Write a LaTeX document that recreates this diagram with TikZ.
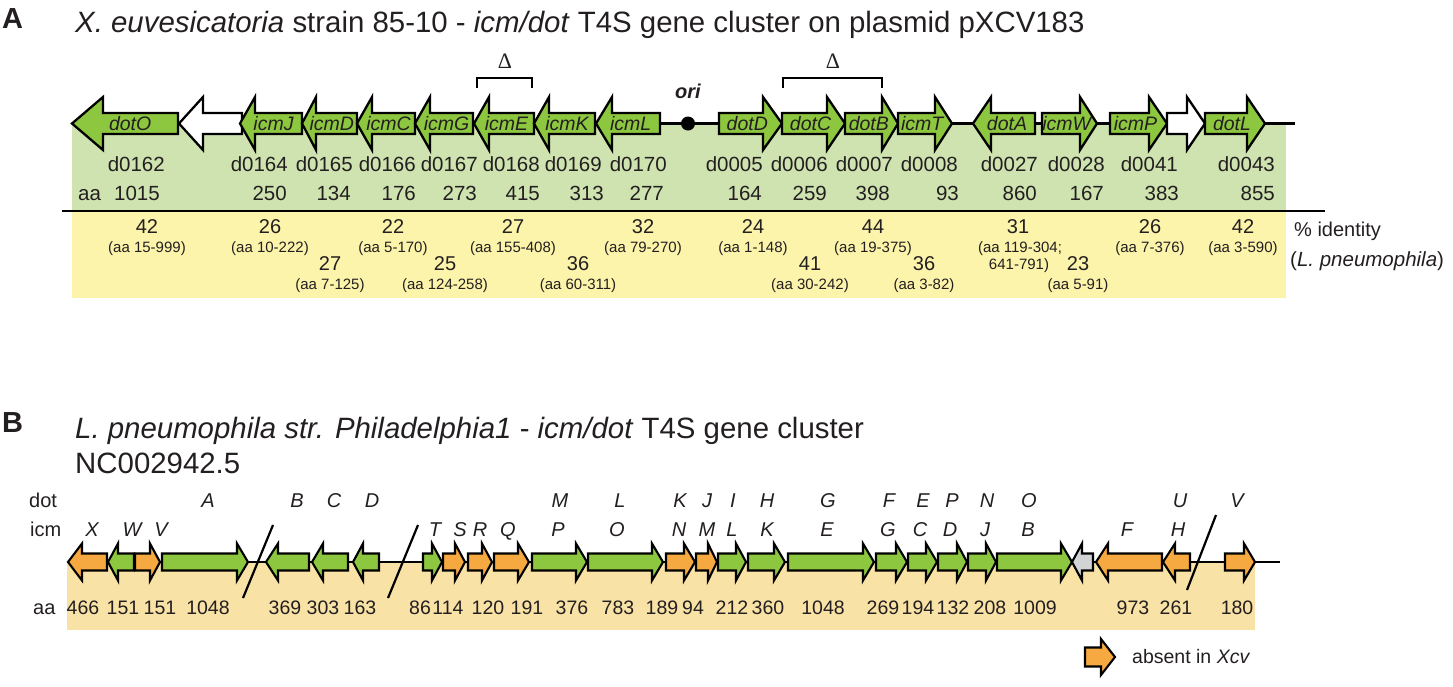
\documentclass[tikz,border=0pt]{standalone}
\usepackage{fontspec}
\setmainfont{Liberation Sans}
\newfontfamily\deltafont{Liberation Serif}
\definecolor{genegreen}{RGB}{141,198,63}
\definecolor{geneorange}{RGB}{247,169,65}
\definecolor{genegrey}{RGB}{209,211,212}
\definecolor{bggreen}{RGB}{207,227,176}
\definecolor{bgyellow}{RGB}{252,244,170}
\definecolor{bgtan}{RGB}{249,226,166}
\definecolor{ink}{RGB}{35,31,32}
\pgfdeclarelayer{labels}
\pgfsetlayers{main,labels}
% gene arrow: [fill](back end:tip:head length, negative when pointing left)
\def\gene[#1](#2:#3:#4){\draw[gene,fill=#1] ({#2},\gy-\bh) -- ({#3-(#4)},\gy-\bh) -- ({#3-(#4)},\gy-\hh) -- ({#3},\gy) -- ({#3-(#4)},\gy+\hh) -- ({#3-(#4)},\gy+\bh) -- ({#2},\gy+\bh) -- cycle;}
\def\genel[#1](#2:#3:#4)#5{\gene[#1](#2:#3:#4)\begin{pgfonlayer}{labels}\node[glab] (#5) at ({(#2+#3)/2-(#4)/6},\gy) {#5};\end{pgfonlayer}}

\begin{document}
\begin{tikzpicture}[x=1pt,y=-1pt,
	gene/.style={draw=black,line width=2.3pt,line join=miter},
	glab/.style={font=\fontsize{19.5}{20}\selectfont\itshape,text=ink,inner sep=0pt,text height=14pt,text depth=0pt},
	txt/.style={text=ink,inner sep=0pt,anchor=base},
	title/.style={txt,anchor=base west,font=\fontsize{29.4}{32}\selectfont},
	panel/.style={txt,anchor=base west,font=\bfseries\fontsize{29}{30}\selectfont},
	loc/.style={txt,anchor=base east,font=\fontsize{20.5}{22}\selectfont},
	ident/.style={txt,font=\fontsize{20}{22}\selectfont},
	rangetxt/.style={txt,font=\fontsize{15}{16}\selectfont},
	letter/.style={txt,font=\fontsize{20}{22}\selectfont\itshape},
	bnum/.style={txt,font=\fontsize{19.5}{22}\selectfont}]
	\useasboundingbox (0,0) rectangle (1453,686);
	
	%%%%% PANEL A %%%%%
	\node[panel] (labA) at (2,28) {A};
	\node[title] (titA) at (75,32) {\textit{X. euvesicatoria} strain 85-10 - \textit{icm/dot} T4S gene cluster on plasmid pXCV183};
	
	\fill[bggreen] (72,123.5) rectangle (1286,211);
	\fill[bgyellow] (72,211) rectangle (1286,298);
	\draw[line width=2.4pt] (62,211) -- (1325,211);
	\draw[line width=2.4pt] (72,123.5) -- (1295,123.5);
	
	\def\gy{123.5}\def\bh{10.5}\def\hh{26.5}
	\genel[genegreen](178:72:-31){dotO}
	\gene[white](242:179:-24)
	\genel[genegreen](302:240:-15){icmJ}
	\genel[genegreen](357:302:-14){icmD}
	\genel[genegreen](415:357:-15){icmC}
	\genel[genegreen](473:415:-15){icmG}
	\genel[genegreen](534:474:-15){icmE}
	\genel[genegreen](595:534:-15){icmK}
	\genel[genegreen](660:596:-16){icmL}
	\genel[genegreen](719:782:19){dotD}
	\genel[genegreen](782:845:18){dotC}
	\genel[genegreen](845:898:16){dotB}
	\genel[genegreen](898:952:17){icmT}
	\genel[genegreen](1035:973:-18){dotA}
	\genel[genegreen](1042:1097:17){icmW}
	\genel[genegreen](1110:1167:18){icmP}
	\gene[white](1167:1205:18)
	\genel[genegreen](1205:1265:18){dotL}
	
	\fill (688,123.5) circle (7);
	\node[txt,font=\fontsize{20}{22}\selectfont\bfseries\itshape] (ori) at (688,98) {ori};
	
	\draw[line width=2.2pt] (477,88) -- (477,78) -- (532,78) -- (532,88);
	\node[txt,font=\fontsize{22}{22}\selectfont\deltafont] (delE) at (505,68) {Δ};
	\draw[line width=2.2pt] (783,88) -- (783,78) -- (882,78) -- (882,88);
	\node[txt,font=\fontsize{22}{22}\selectfont\deltafont] (delCB) at (833,68) {Δ};
	
	\node[loc,anchor=base west] (aaA) at (78,200) {aa};
	\foreach \n/\r/\len/\s in {d0162/165/1015/160, d0164/288/250/287, d0165/353/134/351, d0166/416/176/416, d0167/478/273/477, d0168/540/415/540, d0169/602/313/604, d0170/667/277/664, d0005/763/164/762, d0006/828/259/827, d0007/893/398/890, d0008/958/93/959, d0027/1038/860/1037, d0028/1105/167/1104, d0041/1178/383/1179, d0043/1275/855/1275}
		{\node[loc] (loc\n) at (\r,171) {\n};
		 \node[loc] (len\n) at (\s,200) {\len};}
	
	\foreach \x/\dy/\p/\r [count=\i] in {147/0/42/15-999, 270/0/26/10-222, 330/37/27/7-125, 393/0/22/5-170, 445/37/25/124-258, 513/0/27/155-408, 578/37/36/60-311, 643/0/32/79-270, 753/0/24/1-148, 810/37/41/30-242, 873/0/44/19-375, 924/37/36/3-82, 1078/37/23/5-91, 1150/0/26/7-376, 1243/0/42/3-590}
		{\node[ident] (id\i) at (\x,233+\dy) {\p};
		 \node[rangetxt] (rg\i) at (\x,252+\dy) {(aa \r)};}
	\node[ident] (idA) at (1018,233) {31};
	\node[rangetxt] (rgA) at (1020,252) {(aa 119-304;};
	\node[rangetxt] (rgB) at (1019,269) {641-791)};
	
	\node[ident,anchor=base west] (pid) at (1294,236) {\% identity};
	\node[ident,anchor=base west,font=\fontsize{20.5}{22}\selectfont] (lpn) at (1290,266) {(\textit{L. pneumophila})};
	
	%%%%% PANEL B %%%%%
	\node[panel] (labB) at (2,432) {B};
	\node[title] (titB) at (75,438) {\textit{L. pneumophila str. Philadelphia1} - \textit{icm/dot} T4S gene cluster};
	\node[title] (titB2) at (75,473) {NC002942.5};
	
	\fill[bgtan] (67,562) rectangle (1255,630);
	\draw[line width=2.2pt] (68,562) -- (1280,562);
	
	\tikzset{gene/.append style={line width=2.1pt}}
	\def\gy{562}\def\bh{8.5}\def\hh{18.5}
	\gene[geneorange](107:68:-14)
	\gene[genegreen](134:108:-10)
	\gene[geneorange](135:160:10)
	\gene[genegreen](162:248:11)
	\gene[genegreen](309:266:-12)
	\gene[genegreen](348:312:-11)
	\gene[genegreen](379:353:-10)
	\gene[genegreen](423:442:10)
	\gene[geneorange](443:465:10)
	\gene[geneorange](468:492:10)
	\gene[geneorange](494:529:11)
	\gene[genegreen](532:587:11)
	\gene[genegreen](588:663:11)
	\gene[geneorange](666:695:11)
	\gene[geneorange](696:717:9)
	\gene[genegreen](718:746:10)
	\gene[genegreen](748:785:11)
	\gene[genegreen](788:874:11)
	\gene[genegreen](876:907:11)
	\gene[genegreen](908:937:11)
	\gene[genegreen](938:967:10)
	\gene[genegreen](968:996:10)
	\gene[genegreen](997:1072:11)
	\gene[genegrey](1093:1072:-10)
	\gene[geneorange](1162:1096:-12)
	\gene[geneorange](1190:1163:-12)
	\gene[geneorange](1225:1255:11)
	
	\draw[line width=2.2pt] (273,525) -- (243,598);
	\draw[line width=2.2pt] (418,525) -- (388,598);
	\draw[line width=2.2pt] (1216,515) -- (1187,590);
	
	\node[bnum,anchor=base west,font=\fontsize{20}{22}\selectfont] (dotrow) at (29,507) {dot};
	\node[bnum,anchor=base west,font=\fontsize{20}{22}\selectfont] (icmrow) at (30,536) {icm};
	\node[bnum,anchor=base west,font=\fontsize{20}{22}\selectfont] (aarow) at (33,614) {aa};
	\foreach \l/\x in {A/208, B/297, C/334, D/372, M/560, L/620, K/680, J/707, I/733, H/767, G/828, F/889, E/923, P/952, N/987, O/1029, U/1180, V/1237}
		{\node[letter] (bdot\l) at (\x,507) {\l};}
	\foreach \l/\x in {X/92, W/132, V/161, T/435, S/460, R/480, Q/508, P/558, O/617, N/679, M/707, L/732, K/767, E/827, G/888, C/920, D/950, J/985, B/1028, F/1127, H/1178}
		{\node[letter] (bicm\l) at (\x,536) {\l};}
	\foreach \v/\x [count=\i] in {466/83, 151/123, 151/160, 1048/208, 369/285, 303/323, 163/360, 86/420, 114/448, 120/488, 191/527, 376/572, 783/618, 189/662, 94/693, 212/732, 360/768, 1048/823, 269/883, 194/918, 132/953, 208/990, 1009/1035, 973/1133, 261/1176, 180/1237}
		{\node[bnum] (baa\i) at (\x,614) {\v};}
	
	\def\gy{657}\def\bh{9.5}\def\hh{18}
	\gene[geneorange](1085:1115:14)
	\node[txt,anchor=base west,font=\fontsize{19.5}{20}\selectfont] (legend) at (1132,663) {absent in \textit{Xcv}};
\end{tikzpicture}
\end{document}
